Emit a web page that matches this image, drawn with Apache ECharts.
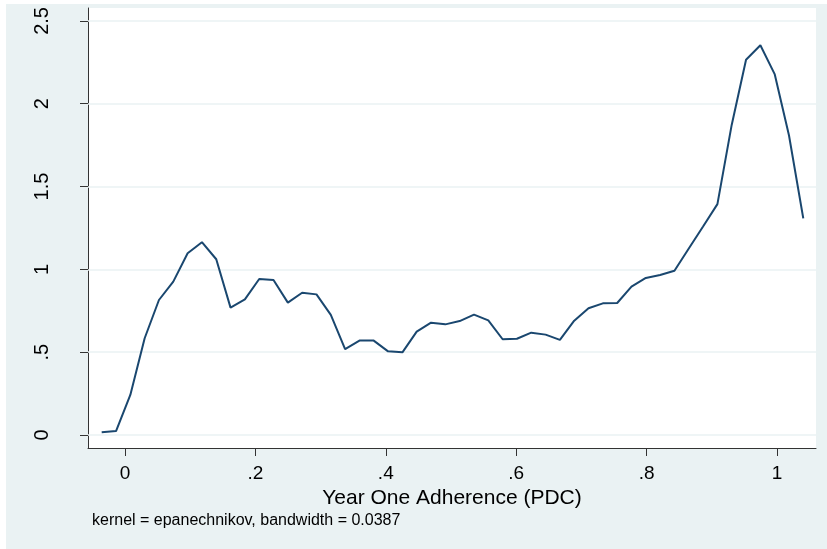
<!DOCTYPE html>
<html>
<head>
<meta charset="utf-8">
<script src="https://cdn.jsdelivr.net/npm/echarts@6/dist/echarts.min.js"></script>
<style>
html,body{margin:0;padding:0;background:#fff;}
#c{width:827px;height:549px;}
</style>
</head>
<body>
<div id="c"></div>
<script>
// Evaluation points (Year One Adherence, PDC)
var xValues = [-0.0357,-0.0137,0.0082,0.0302,0.0521,0.0741,0.0961,0.1180,0.1400,0.1619,
  0.1839,0.2059,0.2278,0.2498,0.2717,0.2937,0.3157,0.3376,0.3596,0.3815,
  0.4035,0.4255,0.4474,0.4694,0.4913,0.5133,0.5353,0.5572,0.5792,0.6011,
  0.6231,0.6451,0.6670,0.6890,0.7109,0.7329,0.7549,0.7768,0.7988,0.8207,
  0.8427,0.8647,0.8866,0.9086,0.9305,0.9525,0.9745,0.9964,1.0184,1.0403];
// Kernel density estimates
var densityValues = [0.016,0.024,0.242,0.584,0.815,0.926,1.097,1.164,1.061,0.769,
  0.819,0.942,0.936,0.799,0.859,0.849,0.725,0.519,0.570,0.570,
  0.505,0.499,0.624,0.678,0.668,0.688,0.727,0.692,0.578,0.581,
  0.618,0.606,0.574,0.690,0.765,0.795,0.797,0.896,0.948,0.966,
  0.992,1.126,1.259,1.394,1.872,2.266,2.353,2.179,1.808,1.308];
var xTicks = [0,0.2,0.4,0.6,0.8,1];
var xTickLabels = ['0','.2','.4','.6','.8','1'];
var yTicks = [0,0.5,1,1.5,2,2.5];
var yTickLabels = ['0','.5','1','1.5','2','2.5'];
var xTitle = 'Year One Adherence (PDC)';
var noteText = 'kernel = epanechnikov, bandwidth = 0.0387';

var seriesData = xValues.map(function(x,i){return [x, densityValues[i]];});
function lab(ticks, labels){
  return function(v){
    for (var i=0;i<ticks.length;i++){ if (Math.abs(ticks[i]-v)<1e-6) return labels[i]; }
    return '';
  };
}

var chart = echarts.init(document.getElementById('c'), null, {renderer:'canvas'});
chart.setOption({
  backgroundColor:'#ffffff',
  animation:false,
  textStyle:{fontFamily:'Liberation Sans, Arial, sans-serif'},
  graphic:[
    {type:'rect', z:-10, silent:true, shape:{x:6,y:4,width:821,height:545}, style:{fill:'#eaf2f3'}},
    {type:'text', left:92, top:513, style:{text:noteText, fill:'#000', font:'16px "Liberation Sans", Arial, sans-serif'}}
  ],
  grid:{left:88, right:11, top:8, bottom:101, show:true, backgroundColor:'#ffffff', borderWidth:0},
  xAxis:{
    type:'value', min:-0.0567, max:1.0598,
    name:xTitle, nameLocation:'middle', nameGap:35,
    nameTextStyle:{color:'#000', fontSize:21},
    axisLine:{show:true, onZero:false, lineStyle:{color:'#333', width:1}},
    axisTick:{show:true, length:8, customValues:xTicks, lineStyle:{color:'#333'}},
    axisLabel:{show:true, customValues:xTicks, formatter:lab(xTicks,xTickLabels), color:'#000', fontSize:19, margin:16},
    splitLine:{show:false}
  },
  yAxis:{
    type:'value', min:-0.0785, max:2.578,
    axisLine:{show:true, onZero:false, lineStyle:{color:'#333', width:1}},
    axisTick:{show:true, length:8, customValues:yTicks, lineStyle:{color:'#333'}},
    axisLabel:{show:true, customValues:yTicks, formatter:lab(yTicks,yTickLabels), color:'#000', fontSize:20, rotate:90, margin:36},
    splitLine:{show:false}
  },
  series:[{
    type:'line', data:seriesData, showSymbol:false, symbol:'none',
    lineStyle:{color:'#1a476f', width:2},
    markLine:{
      silent:true, symbol:['none','none'], label:{show:false}, z:1,
      lineStyle:{color:'#eaf2f3', width:1.5, type:'solid'},
      data:yTicks.map(function(v){return {yAxis:v};})
    },
    z:3
  }]
});
</script>
</body>
</html>
